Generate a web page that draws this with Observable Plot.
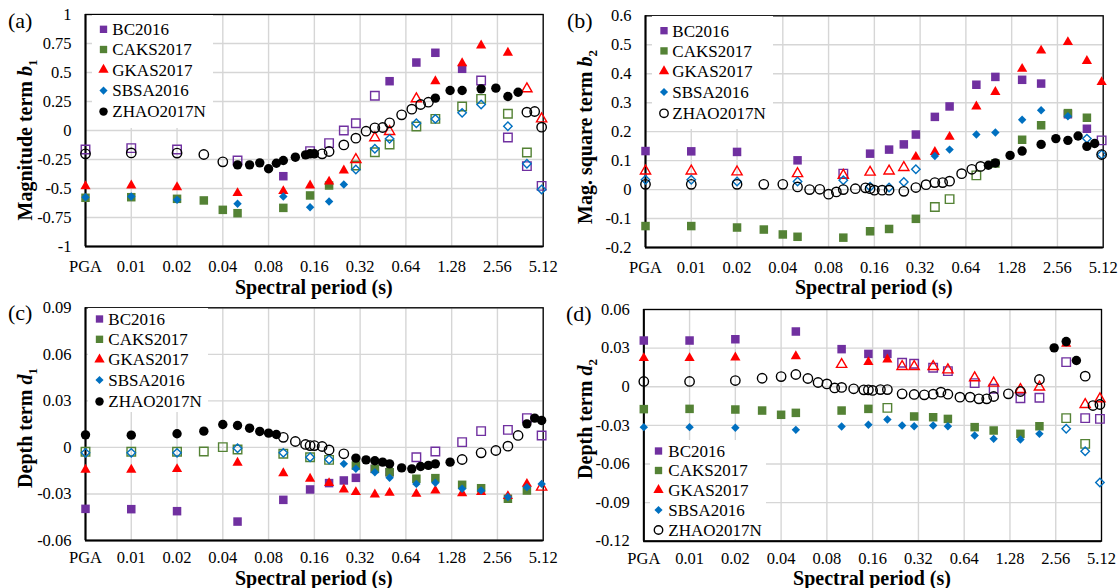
<!DOCTYPE html>
<html><head><meta charset="utf-8">
<script src="https://cdn.jsdelivr.net/npm/d3@7"></script>
<script src="https://cdn.jsdelivr.net/npm/@observablehq/plot@0.6"></script>
<style>
html,body{margin:0;padding:0;background:#fff;}
#wrap{position:relative;width:1120px;height:588px;overflow:hidden;background:#fff;}
.panel{position:absolute;}
</style></head><body><div id="wrap"></div>
<script>
// ---------- axis ticks ----------
const xTickLabels = ["PGA","0.01","0.02","0.04","0.08","0.16","0.32","0.64","1.28","2.56","5.12"];
const pgaPosition = 0.005; // PGA is drawn one octave before 0.01 s
const b1Ticks = [-1,-0.75,-0.5,-0.25,0,0.25,0.5,0.75,1];
const b1TickLabels = ["-1","-0.75","-0.5","-0.25","0","0.25","0.5","0.75","1"];
const b2Ticks = [-0.2,-0.1,0,0.1,0.2,0.3,0.4,0.5,0.6];
const b2TickLabels = ["-0.2","-0.1","0","0.1","0.2","0.3","0.4","0.5","0.6"];
const d1Ticks = [-0.06,-0.03,0,0.03,0.06,0.09];
const d1TickLabels = ["-0.06","-0.03","0","0.03","0.06","0.09"];
const d2Ticks = [-0.12,-0.09,-0.06,-0.03,0,0.03,0.06];
const d2TickLabels = ["-0.12","-0.09","-0.06","-0.03","0","0.03","0.06"];

// ---------- models & periods ----------
const models = ["BC2016","CAKS2017","GKAS2017","SBSA2016","ZHAO2017N"];
const periodsBC = ["PGA",0.01,0.02,0.05,0.1,0.15,0.2,0.25,0.3,0.4,0.5,0.75,1,1.5,2,3,4,5];
const periodsCAKS = ["PGA",0.01,0.02,0.03,0.04,0.05,0.1,0.15,0.2,0.3,0.4,0.5,0.75,1,1.5,2,3,4];
const periodsGKAS = ["PGA",0.01,0.02,0.05,0.1,0.15,0.2,0.25,0.3,0.4,0.5,0.75,1,1.5,2,3,4,5];
const periodsSBSA = ["PGA",0.01,0.02,0.05,0.1,0.15,0.2,0.25,0.3,0.4,0.5,0.75,1,1.5,2,3,4,5];
const periodsZHAO = ["PGA",0.01,0.02,0.03,0.04,0.05,0.06,0.07,0.08,0.09,0.1,0.12,0.14,0.15,0.16,0.18,0.2,0.25,0.3,0.35,0.4,0.45,0.5,0.6,0.7,0.8,0.9,1,1.25,1.5,2,2.5,3,3.5,4,4.5,5];

// ---------- (a) magnitude term b1 ----------
const b1_BC   = [-0.164,-0.152,-0.164,-0.259,-0.394,-0.178,-0.109,0.0,0.063,0.299,0.425,0.586,0.67,0.532,0.431,-0.06,-0.307,-0.477];
const b1_BC_filled   = [0,0,0,0,1,0,0,0,0,0,1,1,1,1,0,0,0,0];
const b1_CAKS = [-0.58,-0.575,-0.589,-0.603,-0.684,-0.713,-0.667,-0.56,-0.474,-0.302,-0.187,-0.121,0.034,0.1,0.207,0.273,0.144,-0.19];
const b1_CAKS_filled = [1,1,1,1,1,1,1,1,1,0,0,0,0,0,0,0,0,0];
const b1_GKAS = [-0.48,-0.474,-0.489,-0.54,-0.523,-0.474,-0.44,-0.345,-0.25,-0.063,-0.009,0.273,0.425,0.58,0.733,0.67,0.359,0.1];
const b1_GKAS_filled = [1,1,1,1,1,1,1,1,0,0,0,0,1,1,1,1,0,0];
const b1_SBSA = [-0.575,-0.569,-0.598,-0.632,-0.569,-0.661,-0.612,-0.466,-0.336,-0.158,-0.072,0.063,0.1,0.152,0.224,0.037,-0.287,-0.509];
const b1_SBSA_filled = [1,1,1,1,1,1,1,1,0,0,0,0,0,0,0,0,0,0];
const b1_ZHAO = [-0.201,-0.193,-0.195,-0.207,-0.27,-0.296,-0.296,-0.279,-0.33,-0.282,-0.259,-0.23,-0.21,-0.201,-0.201,-0.201,-0.181,-0.124,-0.066,-0.006,0.023,0.026,0.066,0.135,0.184,0.224,0.244,0.279,0.345,0.345,0.359,0.365,0.293,0.33,0.158,0.164,0.029];
const b1_ZHAO_filled = [0,0,0,0,0,1,1,1,1,1,1,1,1,1,1,0,0,0,0,0,0,0,0,0,0,0,0,1,1,1,1,1,1,1,0,0,0];

// ---------- (b) magnitude square term b2 ----------
const b2_BC   = [0.133,0.132,0.13,0.101,0.055,0.124,0.138,0.156,0.19,0.251,0.287,0.362,0.389,0.379,0.366,0.26,0.21,0.17];
const b2_BC_filled   = [1,1,1,1,0,1,1,1,1,1,1,1,1,1,1,1,1,0];
const b2_CAKS = [-0.126,-0.126,-0.131,-0.138,-0.155,-0.163,-0.166,-0.144,-0.136,-0.101,-0.06,-0.033,0.049,0.09,0.172,0.222,0.264,0.248];
const b2_CAKS_filled = [1,1,1,1,1,1,1,1,1,1,0,0,0,1,1,1,1,1];
const b2_GKAS = [0.064,0.064,0.061,0.055,0.049,0.06,0.064,0.076,0.113,0.13,0.182,0.287,0.337,0.417,0.48,0.509,0.444,0.371];
const b2_GKAS_filled = [0,0,0,0,0,0,0,0,1,1,1,1,1,1,1,1,1,1];
const b2_SBSA = [0.034,0.034,0.028,0.028,0.032,0.01,0.007,0.026,0.07,0.116,0.138,0.19,0.197,0.241,0.274,0.253,0.176,0.121];
const b2_SBSA_filled = [0,0,0,0,0,0,0,0,0,1,1,1,1,1,1,1,0,0];
const b2_ZHAO = [0.018,0.018,0.018,0.018,0.018,0.009,0,0.001,-0.016,-0.008,0,0.003,0.006,0.003,-0.002,-0.002,-0.002,-0.006,0.007,0.017,0.024,0.024,0.029,0.055,0.07,0.08,0.084,0.092,0.118,0.133,0.156,0.176,0.17,0.185,0.149,0.159,0.121];
const b2_ZHAO_filled = [0,0,0,0,0,0,0,0,0,0,0,0,0,0,0,0,0,0,0,0,0,0,0,0,0,0,1,1,1,1,1,1,1,1,1,1,0];

// ---------- (c) depth term d1 ----------
const d1_BC   = [-0.0396,-0.0398,-0.0411,-0.0478,-0.0338,-0.0271,-0.023,-0.0213,-0.0196,-0.0138,-0.016,-0.0063,-0.0026,0.0034,0.0105,0.0113,0.0189,0.0077];
const d1_BC_filled   = [1,1,1,1,1,1,1,1,1,1,1,0,0,0,0,0,0,0];
const d1_CAKS = [-0.0028,-0.0028,-0.0028,-0.0026,0.0002,-0.0013,-0.0041,-0.0063,-0.008,-0.0117,-0.0138,-0.016,-0.0202,-0.0198,-0.0241,-0.0263,-0.0331,-0.0278];
const d1_CAKS_filled = [0,0,0,0,0,0,0,0,0,1,1,1,1,1,1,1,1,1];
const d1_GKAS = [-0.0144,-0.0144,-0.014,-0.0099,-0.0166,-0.0202,-0.023,-0.0271,-0.0288,-0.0303,-0.0293,-0.0299,-0.0278,-0.0295,-0.0288,-0.0314,-0.0235,-0.0256];
const d1_GKAS_filled = [1,1,1,1,1,1,1,1,1,1,1,1,1,1,1,1,1,0];
const d1_SBSA = [-0.0035,-0.0035,-0.0035,-0.0005,-0.0035,-0.0063,-0.0078,-0.0106,-0.0138,-0.016,-0.0196,-0.0235,-0.0228,-0.0267,-0.0278,-0.032,-0.0256,-0.0235];
const d1_SBSA_filled = [0,0,0,0,0,0,0,1,1,1,1,1,1,1,1,1,1,1];
const d1_ZHAO = [0.0081,0.0079,0.0088,0.0105,0.0148,0.0141,0.0124,0.0103,0.0092,0.0083,0.0065,0.0038,0.0019,0.0012,0.0012,0.0006,-0.0016,-0.0041,-0.0069,-0.008,-0.0086,-0.0095,-0.0106,-0.0132,-0.0138,-0.0123,-0.0116,-0.0106,-0.0095,-0.0078,-0.0035,-0.002,0.0008,0.0077,0.0152,0.0189,0.0174];
const d1_ZHAO_filled = [1,1,1,1,1,1,1,1,1,1,0,0,0,0,0,0,0,0,1,1,1,1,1,1,1,1,1,1,1,0,0,0,0,0,1,1,1];

// ---------- (d) depth term d2 ----------
const d2_BC   = [0.0359,0.0359,0.0369,0.0429,0.0292,0.0255,0.0255,0.0186,0.0178,0.0147,0.0121,0.0028,-0.0016,-0.0089,-0.0086,0.0191,-0.0244,-0.025];
const d2_BC_filled   = [1,1,1,1,1,1,1,0,0,0,0,0,0,0,0,0,0,0];
const d2_CAKS = [-0.0174,-0.0172,-0.0177,-0.0185,-0.0218,-0.0203,-0.0185,-0.0172,-0.0164,-0.0231,-0.0237,-0.025,-0.0314,-0.034,-0.0366,-0.0307,-0.0244,-0.0444];
const d2_CAKS_filled = [1,1,1,1,1,1,1,1,0,1,1,1,1,1,1,1,0,0];
const d2_GKAS = [0.0222,0.0222,0.0227,0.0237,0.0173,0.0191,0.0212,0.0157,0.0157,0.0157,0.0131,0.0069,0.0028,-0.0022,-0.0003,0.0333,-0.0138,-0.0094];
const d2_GKAS_filled = [1,1,1,1,0,1,1,0,0,0,0,0,0,0,0,1,0,0];
const d2_SBSA = [-0.0314,-0.0314,-0.0319,-0.0335,-0.0309,-0.0296,-0.0255,-0.0301,-0.0307,-0.0301,-0.0307,-0.0379,-0.0405,-0.041,-0.0366,-0.0327,-0.0501,-0.0744];
const d2_SBSA_filled = [1,1,1,1,1,1,1,1,1,1,1,1,1,1,1,0,0,0];
const d2_ZHAO = [0.0041,0.0041,0.0048,0.0066,0.0079,0.0095,0.0064,0.0033,0.0022,-0.0009,-0.0005,-0.0016,-0.0024,-0.0024,-0.0029,-0.0022,-0.0022,-0.0055,-0.006,-0.0063,-0.0058,-0.0042,-0.0058,-0.0081,-0.0081,-0.0094,-0.0094,-0.0076,-0.0055,-0.0037,0.0056,0.0302,0.0351,0.0204,0.0082,-0.0146,-0.0138];
const d2_ZHAO_filled = [0,0,0,0,0,0,0,0,0,0,0,0,0,0,0,0,0,0,0,0,0,0,0,0,0,0,0,0,0,0,0,1,1,1,0,0,0];

// ---------- styles ----------
const FONT = '"Liberation Serif","Times New Roman",serif';
const modelStyle = {
  "BC2016":   {color:"#7030A0", symbol:"square",   r:4.8, legendSize:54},
  "CAKS2017": {color:"#548235", symbol:"square",   r:4.8, legendSize:54},
  "GKAS2017": {color:"#FF0000", symbol:"triangle", r:3.8, legendSize:46},
  "SBSA2016": {color:"#0070C0", symbol:"diamond2", r:3.8, legendSize:42},
  "ZHAO2017N":{color:"#000000", symbol:"circle",   r:4.7, legendSize:56}
};
const periodsOf = {"BC2016":periodsBC,"CAKS2017":periodsCAKS,"GKAS2017":periodsGKAS,"SBSA2016":periodsSBSA,"ZHAO2017N":periodsZHAO};
const xTickValues = xTickLabels.map(l => l === "PGA" ? pgaPosition : +l);
const periodPos = p => p === "PGA" ? pgaPosition : p;

const panels = [
  {id:"a", left:0, top:0, ml:85, mr:17.3, mt:14, mb:48, xPad:14,
   ticks:b1Ticks, tickLabels:b1TickLabels,
   values:{"BC2016":b1_BC,"CAKS2017":b1_CAKS,"GKAS2017":b1_GKAS,"SBSA2016":b1_SBSA,"ZHAO2017N":b1_ZHAO},
   filled:{"BC2016":b1_BC_filled,"CAKS2017":b1_CAKS_filled,"GKAS2017":b1_GKAS_filled,"SBSA2016":b1_SBSA_filled,"ZHAO2017N":b1_ZHAO_filled}},
  {id:"b", left:560, top:0, ml:85, mr:17.3, mt:15.3, mb:47, xPad:14,
   ticks:b2Ticks, tickLabels:b2TickLabels,
   values:{"BC2016":b2_BC,"CAKS2017":b2_CAKS,"GKAS2017":b2_GKAS,"SBSA2016":b2_SBSA,"ZHAO2017N":b2_ZHAO},
   filled:{"BC2016":b2_BC_filled,"CAKS2017":b2_CAKS_filled,"GKAS2017":b2_GKAS_filled,"SBSA2016":b2_SBSA_filled,"ZHAO2017N":b2_ZHAO_filled}},
  {id:"c", left:0, top:294, ml:85, mr:17.3, mt:13.3, mb:48, xPad:11,
   ticks:d1Ticks, tickLabels:d1TickLabels,
   values:{"BC2016":d1_BC,"CAKS2017":d1_CAKS,"GKAS2017":d1_GKAS,"SBSA2016":d1_SBSA,"ZHAO2017N":d1_ZHAO},
   filled:{"BC2016":d1_BC_filled,"CAKS2017":d1_CAKS_filled,"GKAS2017":d1_GKAS_filled,"SBSA2016":d1_SBSA_filled,"ZHAO2017N":d1_ZHAO_filled}},
  {id:"d", left:560, top:294, ml:83.3, mr:19, mt:15, mb:47.3, xPad:11,
   ticks:d2Ticks, tickLabels:d2TickLabels,
   values:{"BC2016":d2_BC,"CAKS2017":d2_CAKS,"GKAS2017":d2_GKAS,"SBSA2016":d2_SBSA,"ZHAO2017N":d2_ZHAO},
   filled:{"BC2016":d2_BC_filled,"CAKS2017":d2_CAKS_filled,"GKAS2017":d2_GKAS_filled,"SBSA2016":d2_SBSA_filled,"ZHAO2017N":d2_ZHAO_filled}}
];

function dotMarks(p) {
  const marks = [];
  for (const m of models) {
    const st = modelStyle[m];
    const rows = periodsOf[m].map((per, i) => ({x: periodPos(per), y: p.values[m][i], f: p.filled[m][i]}));
    marks.push(Plot.dot(rows.filter(d => d.f), {x:"x", y:"y", symbol:st.symbol, r:st.r, fill:st.color, stroke:"none"}));
    marks.push(Plot.dot(rows.filter(d => !d.f), {x:"x", y:"y", symbol:st.symbol, r:st.r, fill:"none", stroke:st.color, strokeWidth:1.4}));
  }
  return marks;
}

const wrap = document.getElementById("wrap");
for (const p of panels) {
  const yDom = [p.ticks[0], p.ticks[p.ticks.length-1]];
  const chart = Plot.plot({
    width:560, height:294,
    marginLeft:p.ml, marginRight:p.mr, marginTop:p.mt, marginBottom:p.mb,
    style:{fontFamily:FONT, fontSize:"16.5px", color:"#000", background:"transparent", overflow:"visible"},
    x:{type:"log", base:2, domain:[xTickValues[0], xTickValues[xTickValues.length-1]], ticks:xTickValues,
       tickFormat:d => xTickLabels[xTickValues.indexOf(d)], tickSize:0, tickPadding:p.xPad, label:null},
    y:{domain:yDom, ticks:p.ticks, tickFormat:d => p.tickLabels[p.ticks.indexOf(d)], tickSize:0, tickPadding:14, label:null},
    marks:[
      Plot.ruleX(xTickValues, {stroke:"#d6d6d6", strokeWidth:1.4}),
      Plot.ruleY(p.ticks, {stroke:"#d6d6d6", strokeWidth:1.4}),
      Plot.frame({stroke:"#000", strokeWidth:1.3}),
      Plot.ruleX([xTickValues[0]], {stroke:"#000", strokeWidth:2}),
      Plot.ruleY([yDom[0]], {stroke:"#000", strokeWidth:2}),
      ...dotMarks(p)
    ]
  });
  const div = document.createElement("div");
  div.className = "panel";
  div.style.left = p.left + "px";
  div.style.top = p.top + "px";
  div.appendChild(chart);
  wrap.appendChild(div);
}

// ---------- overlay: titles, panel letters, legends ----------
const svg = d3.select(wrap).append("svg")
  .attr("width",1120).attr("height",588)
  .style("position","absolute").style("left","0px").style("top","0px")
  .style("font-family", FONT);

const panelLetters = [["(a)",8,28],["(b)",567,28],["(c)",8,320],["(d)",566,321]];
for (const [t,x,y] of panelLetters) svg.append("text").attr("x",x).attr("y",y).attr("font-size",22).text(t);

const yTitles = [
  ["Magnitude term ","b","1",32,140],
  ["Mag. square term ","b","2",592,137],
  ["Depth term ","d","1",32,428],
  ["Depth term ","d","2",592,419]
];
for (const [pre,sym,sub,x,y] of yTitles) {
  const t = svg.append("text").attr("transform",`translate(${x},${y}) rotate(-90)`)
    .attr("text-anchor","middle").attr("font-weight","bold").attr("font-size",20);
  t.append("tspan").text(pre);
  t.append("tspan").attr("font-style","italic").text(sym);
  t.append("tspan").attr("font-size",13).attr("dy",5).text(sub);
}

const xTitles = [[313.8,293.5],[873.8,294],[313.8,584.5],[872,585]];
for (const [x,y] of xTitles) svg.append("text").attr("x",x).attr("y",y).attr("text-anchor","middle")
  .attr("font-weight","bold").attr("font-size",20).text("Spectral period (s)");

const legends = [
  {box:[92,15,121,113], mx:103.5, tx:112.3, rows:[29.3,49.5,69.8,90.6,111.6], zhaoOpen:false},
  {box:[652,16,121,113], mx:664, tx:672.3, rows:[30.7,50.9,71.3,92,113.3], zhaoOpen:true},
  {box:[88,308,120,104], mx:99.5, tx:108.3, rows:[319,339.3,359.5,380,401.5], zhaoOpen:false},
  {box:[650,440,116,99], mx:658.5, tx:668.3, rows:[451,470.5,490,510,530], zhaoOpen:true}
];
const symbolMap = {square:d3.symbolSquare, triangle:d3.symbolTriangle, diamond2:d3.symbolDiamond2, circle:d3.symbolCircle};
for (const L of legends) {
  svg.append("rect").attr("x",L.box[0]).attr("y",L.box[1]).attr("width",L.box[2]).attr("height",L.box[3]).attr("fill","#fff");
  models.forEach((m,i) => {
    const st = modelStyle[m];
    const open = (m === "ZHAO2017N" && L.zhaoOpen);
    svg.append("path").attr("d", d3.symbol(symbolMap[st.symbol], st.legendSize)())
      .attr("transform",`translate(${L.mx},${L.rows[i]})`)
      .attr("fill", open ? "none" : st.color)
      .attr("stroke", open ? st.color : "none").attr("stroke-width",1.4);
    svg.append("text").attr("x",L.tx).attr("y",L.rows[i]+5.8).attr("font-size",17).text(m);
  });
}
</script></body></html>
